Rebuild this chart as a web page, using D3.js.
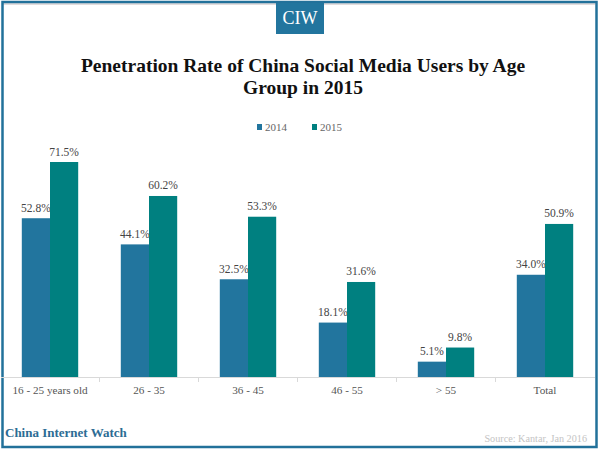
<!DOCTYPE html>
<html>
<head>
<meta charset="utf-8">
<script src="https://cdnjs.cloudflare.com/ajax/libs/d3/7.8.5/d3.min.js"></script>
<style>
html, body { margin: 0; padding: 0; background: #fff; }
svg { display: block; }
text { font-family: "Liberation Serif", serif; }
</style>
</head>
<body>
<div id="chart"></div>
<script>
var categories = ['16 - 25 years old', '26 - 35', '36 - 45', '46 - 55', '> 55', 'Total'];
var series = ['2014', '2015'];
var values2014 = [52.8, 44.1, 32.5, 18.1, 5.1, 34.0];
var values2015 = [71.5, 60.2, 53.3, 31.6, 9.8, 50.9];
var colors = ['#22759e', '#008080'];

var width = 600, height = 450;
var baseline = 377;

var svg = d3.select('#chart').append('svg')
  .attr('width', width)
  .attr('height', height);

// frame
svg.append('rect')
  .attr('x', 3).attr('y', 3)
  .attr('width', 592).attr('height', 2)
  .attr('fill', '#e2dcdc');
svg.append('rect')
  .attr('x', 2.5).attr('y', 2)
  .attr('width', 594).attr('height', 445)
  .attr('fill', 'none')
  .attr('stroke', '#22719a')
  .attr('stroke-width', 2.5);

// logo tab
svg.append('rect')
  .attr('x', 276).attr('y', 3)
  .attr('width', 48).attr('height', 31)
  .attr('fill', '#22759e');
svg.append('text')
  .attr('x', 300).attr('y', 24)
  .attr('text-anchor', 'middle')
  .attr('font-size', 18)
  .attr('fill', '#fff')
  .text('CIW');

// title
var titleLines = ['Penetration Rate of China Social Media Users by Age', 'Group in 2015'];
svg.selectAll('.title')
  .data(titleLines).enter()
  .append('text')
  .attr('class', 'title')
  .attr('x', 303)
  .attr('y', function (d, i) { return 72 + i * 22; })
  .attr('text-anchor', 'middle')
  .attr('font-size', 19.5)
  .attr('font-weight', 'bold')
  .attr('fill', '#111')
  .text(function (d) { return d; });

// legend
var legendX = [257, 312];
series.forEach(function (s, i) {
  svg.append('rect')
    .attr('x', legendX[i]).attr('y', 124)
    .attr('width', 5).attr('height', 6)
    .attr('fill', colors[i]);
  svg.append('text')
    .attr('x', legendX[i] + 8).attr('y', 131)
    .attr('font-size', 11)
    .attr('fill', '#666')
    .text(s);
});

// scales
var x = d3.scaleBand().domain(categories).range([0.5, 594.5]);
var bar = 28.2;
var y = d3.scaleLinear().domain([0, 71.5]).range([baseline, 162]);

// axis
var axis = d3.axisBottom(x).tickSize(0).tickPadding(9);
var axisG = svg.append('g')
  .attr('transform', 'translate(0,' + baseline + ')')
  .call(axis);
axisG.select('.domain').attr('stroke', '#d9d9d9');
axisG.selectAll('text')
  .attr('font-family', '"Liberation Serif", serif')
  .attr('font-size', 11.2)
  .attr('fill', '#555');
axisG.selectAll('.sep')
  .data(categories.slice(1)).enter()
  .append('line')
  .attr('class', 'sep')
  .attr('x1', function (d) { return x(d); })
  .attr('x2', function (d) { return x(d); })
  .attr('y1', 0).attr('y2', 5)
  .attr('stroke', '#d9d9d9');

// bars + labels
[values2014, values2015].forEach(function (vals, s) {
  var g = svg.append('g');
  g.selectAll('rect')
    .data(vals).enter()
    .append('rect')
    .attr('x', function (d, i) { return x(categories[i]) + x.bandwidth() / 2 - bar + s * bar; })
    .attr('y', function (d) { return y(d); })
    .attr('width', bar)
    .attr('height', function (d) { return baseline - y(d); })
    .attr('fill', colors[s]);
  g.selectAll('text')
    .data(vals).enter()
    .append('text')
    .attr('x', function (d, i) { return x(categories[i]) + x.bandwidth() / 2 - bar / 2 + s * bar; })
    .attr('y', function (d) { return y(d) - 6.5; })
    .attr('text-anchor', 'middle')
    .attr('font-size', 11.5)
    .attr('fill', '#444')
    .text(function (d) { return d.toFixed(1) + '%'; });
});

// footer
svg.append('text')
  .attr('x', 5).attr('y', 437)
  .attr('font-size', 13)
  .attr('font-weight', 'bold')
  .attr('fill', '#2c6c94')
  .text('China Internet Watch');
svg.append('text')
  .attr('x', 587).attr('y', 442)
  .attr('text-anchor', 'end')
  .attr('font-size', 10.2)
  .attr('fill', '#c4c4c4')
  .text('Source: Kantar, Jan 2016');
</script>
</body>
</html>
